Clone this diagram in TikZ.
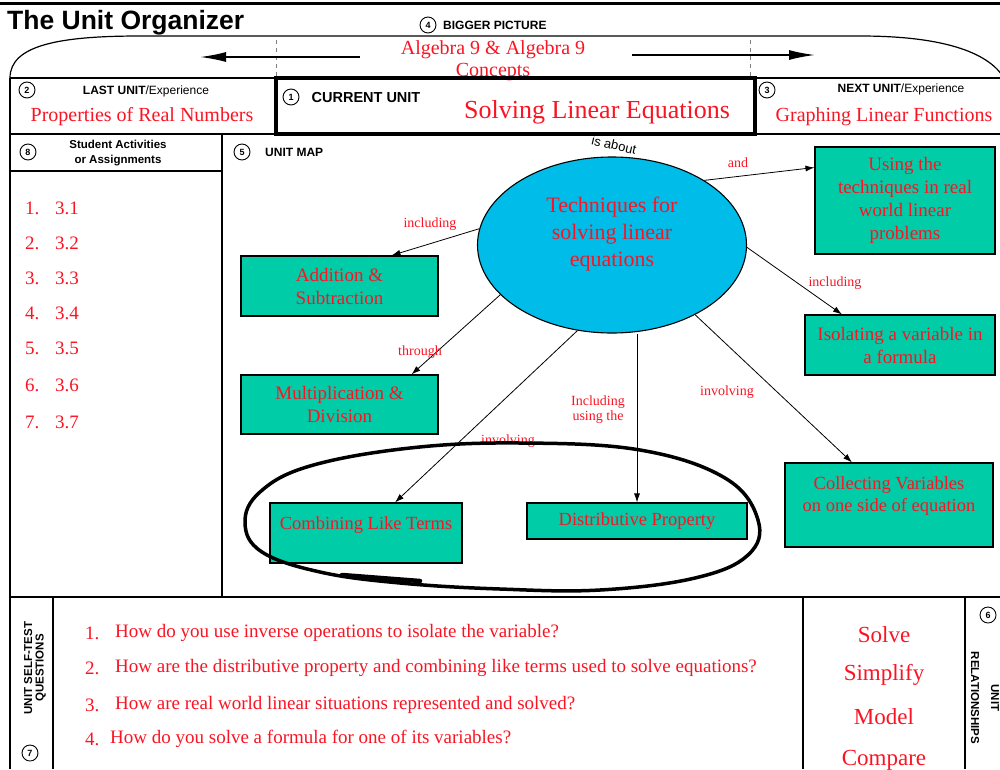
\documentclass[tikz,border=0pt]{standalone}
\usepackage{fontspec}
\setmainfont{Liberation Serif}
\setsansfont{Liberation Sans}
\usetikzlibrary{arrows.meta,shapes.geometric}
\definecolor{orgred}{RGB}{250,20,35}
\definecolor{mapteal}{RGB}{0,204,168}
\definecolor{mapcyan}{RGB}{0,188,232}
\newcommand{\setfs}[2]{\fontsize{#1}{#2}\selectfont}
\begin{document}
\begin{tikzpicture}[x=1pt,y=-1pt,
	redtxt/.style={text=orgred,inner sep=0pt,font=\setfs{20}{22}},
	headtxt/.style={inner sep=0pt,font=\sffamily\bfseries\setfs{12}{14}},
	numcirc/.style={draw,circle,inner sep=0pt,minimum size=16pt,line width=0.9pt,font=\sffamily\bfseries\setfs{9}{9}},
	mapbox/.style={draw,fill=mapteal,line width=1.1pt,inner sep=0pt,text=orgred,align=center,font=\setfs{19}{23}},
	linktxt/.style={text=orgred,inner sep=0pt,align=center,font=\setfs{14}{15}},
	maparrow/.style={-{Latex[length=9pt,width=6pt]},line width=0.8pt},
	bigarrow/.style={-{Latex[length=26pt,width=10pt]},line width=1.6pt},
	ruling/.style={line width=1.2pt}]
	\useasboundingbox (0,0) rectangle (1000,769);
	% frame of the organizer
	\draw[line width=3pt] (0,3) -- (1000,3);
	\draw[ruling] (10,78) .. controls (10,45) and (60,36) .. (140,36) -- (860,36) .. controls (950,36) and (990,55) .. (1004,78);
	\draw[ruling] (10,78) -- (1000,78);
	\draw[ruling] (10,134) -- (1000,134);
	\draw[ruling] (10,78) -- (10,769);
	\draw[ruling] (222,134) -- (222,597);
	\draw[ruling] (10,171) -- (222,171);
	\draw[line width=2pt] (10,597) -- (1000,597);
	\draw[ruling] (53,597) -- (53,769);
	\draw[ruling] (803,597) -- (803,769);
	\draw[ruling] (965,597) -- (965,769);
	\draw[gray,line width=0.8pt,dash pattern=on 4pt off 4pt] (276,40) -- (276,78);
	\draw[gray,line width=0.8pt,dash pattern=on 4pt off 4pt] (750,40) -- (750,78);
	% top rows
	\node[anchor=west,inner sep=0pt,font=\sffamily\bfseries\setfs{26.5}{27}] (title) at (7,23) {The Unit Organizer};
	\node[numcirc] (c4) at (428,25) {4};
	\node[headtxt,anchor=west] (bigger) at (443,25) {BIGGER PICTURE};
	\node[redtxt,align=center] (algebra) at (493,61) {Algebra 9 \& Algebra 9\\Concepts};
	\coordinate (lefttail) at (360,57);
	\coordinate (lefthead) at (200,57);
	\coordinate (righttail) at (632,55);
	\coordinate (righthead) at (815,55);
	\draw[bigarrow] (lefttail) -- (lefthead);
	\draw[bigarrow] (righttail) -- (righthead);
	\draw[line width=4pt] (276,78) rectangle (755,134);
	\node[numcirc] (c2) at (27,90) {2};
	\node[headtxt] (lastunit) at (146,91) {LAST UNIT\textmd{/Experience}};
	\node[redtxt] (lastname) at (142,117) {Properties of Real Numbers};
	\node[numcirc] (c1) at (291,97) {1};
	\node[headtxt,font=\sffamily\bfseries\setfs{14.5}{15}] (curunit) at (366,98) {CURRENT UNIT};
	\node[redtxt,font=\setfs{26}{28}] (curname) at (597,112) {Solving Linear Equations};
	\node[numcirc] (c3) at (767,90) {3};
	\node[headtxt] (nextunit) at (901,89) {NEXT UNIT\textmd{/Experience}};
	\node[redtxt] (nextname) at (884,117) {Graphing Linear Functions};
	% student activities
	\node[numcirc] (c8) at (28,152) {8};
	\node[headtxt,align=center,font=\sffamily\bfseries\setfs{11.5}{15}] (activities) at (118,153) {Student Activities\\or Assignments};
	\foreach \n/\y in {1/208,2/243,3/278,4/313,5/348,6/385,7/422}{
		\node[redtxt,anchor=west,font=\setfs{19}{22}] (num\n) at (25,\y) {\n.};
		\node[redtxt,anchor=west,font=\setfs{19}{22}] (act\n) at (55,\y) {3.\n};
	}
	% unit map
	\node[numcirc] (c5) at (242,152) {5};
	\node[headtxt,anchor=west] (unitmap) at (265,152) {UNIT MAP};
	\node[inner sep=0pt,rotate=-13,font=\sffamily\setfs{13}{13}] (isabout) at (614,145) {is about};
	\node[draw,ellipse,fill=mapcyan,line width=1.1pt,minimum width=269,minimum height=176,inner sep=0pt,
		text=orgred,align=center,font=\setfs{22}{27}] (tech) at (612,245) {Techniques for\\solving linear\\equations\\~};
	\node[mapbox,minimum width=197,minimum height=60] (addsub) at (339.5,286) {Addition \&\\Subtraction};
	\node[mapbox,minimum width=197,minimum height=59] (multdiv) at (339.5,404.5) {Multiplication \&\\Division};
	\node[mapbox,minimum width=180,minimum height=107] (using) at (905,200.5) {Using the\\techniques in real\\world linear\\problems};
	\node[mapbox,minimum width=190,minimum height=60] (isolate) at (900,345) {Isolating a variable in\\a formula};
	\node[mapbox,minimum width=208,minimum height=84,font=\setfs{18.5}{22}] (collect) at (889,505) {Collecting Variables\\on one side of equation\\~};
	\node[mapbox,minimum width=192,minimum height=60,font=\setfs{18.5}{20}] (combine) at (366,533) {Combining Like Terms\\~};
	\node[mapbox,minimum width=220,minimum height=36,font=\setfs{18.5}{20}] (distrib) at (637,521) {Distributive Property};
	\draw[maparrow] (tech.173) -- ([xshift=52pt]addsub.north);
	\draw[maparrow] (tech.204) -- ([xshift=72pt]multdiv.north);
	\draw[maparrow] (tech.248) -- ([xshift=29pt]combine.north);
	\draw[maparrow] (tech.south -| distrib.north) -- (distrib.north);
	\draw[maparrow] (tech.320) -- ([xshift=-37pt]collect.north);
	\draw[maparrow] (tech.359) -- ([xshift=-58pt]isolate.north);
	\draw[maparrow] (tech.35) -- ([yshift=33pt]using.west);
	\node[linktxt] (lblincl) at (430,224) {including};
	\node[linktxt] (lblthrough) at (420,352) {through};
	\node[linktxt] (lblinvolve) at (508,441) {involving};
	\node[linktxt] (lblusing) at (598,410) {Including\\using the};
	\node[linktxt] (lblinvolve2) at (727,392) {involving};
	\node[linktxt] (lblincl2) at (835,283) {including};
	\node[linktxt] (lbland) at (738,163) {and};
	% hand drawn loop
	\draw[line width=3.5pt,line join=round] plot[smooth cycle,tension=0.65] coordinates {(520,443) (640,450) (725,478) (758,520) (748,555) (695,578) (600,590) (500,589) (400,583) (320,572) (262,552) (245,523) (260,492) (310,466) (410,448)};
	\draw[line width=4.5pt,line cap=round] (342,575) -- (420,581);
	% self-test questions
	\node[headtxt,rotate=90,align=center,font=\sffamily\bfseries\setfs{11.5}{11.5}] (selftest) at (35,668) {UNIT SELF-TEST\\QUESTIONS};
	\node[numcirc] (c7) at (30,753) {7};
	\node[redtxt,anchor=west,font=\setfs{19}{22}] (qn1) at (85,633) {1.};
	\node[redtxt,anchor=west,font=\setfs{19}{22}] (q1) at (115,633) {How do you use inverse operations to isolate the variable?};
	\node[redtxt,anchor=west,font=\setfs{19}{22}] (qn2) at (85,668) {2.};
	\node[redtxt,anchor=west,font=\setfs{19}{22}] (q2) at (115,668) {How are the distributive property and combining like terms used to solve equations?};
	\node[redtxt,anchor=west,font=\setfs{19}{22}] (qn3) at (85,705) {3.};
	\node[redtxt,anchor=west,font=\setfs{19}{22}] (q3) at (115,705) {How are real world linear situations represented and solved?};
	\node[redtxt,anchor=west,font=\setfs{19}{22}] (qn4) at (85,739) {4.};
	\node[redtxt,anchor=west,font=\setfs{19}{22}] (q4) at (110,739) {How do you solve a formula for one of its variables?};
	% relationships
	\foreach \w/\y in {Solve/635,Simplify/675,Model/717,Compare/760}{
		\node[redtxt,font=\setfs{23}{25}] (\w) at (884,\y) {\w};
	}
	\node[numcirc] (c6) at (988,615) {6};
	\node[headtxt,rotate=-90,align=center,font=\sffamily\bfseries\setfs{11.5}{12}] (relations) at (985,698) {UNIT\\[8pt]RELATIONSHIPS};
\end{tikzpicture}
\end{document}
